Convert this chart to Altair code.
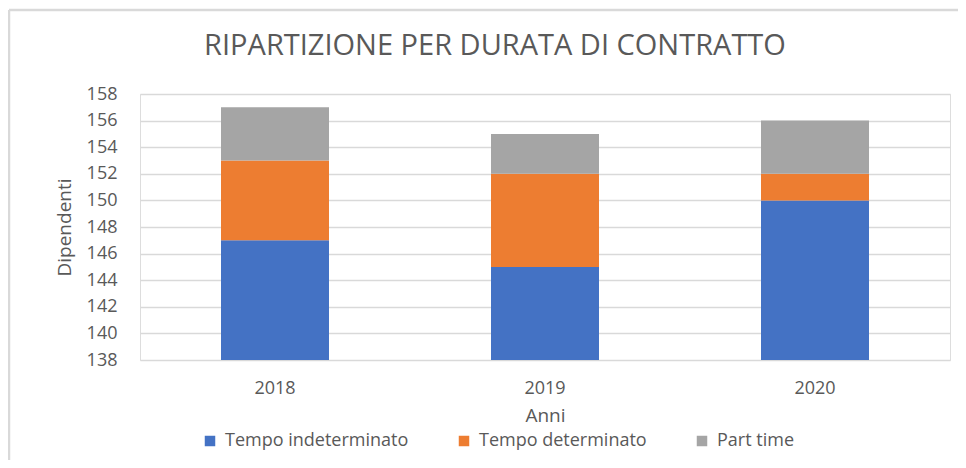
import altair as alt
import pandas as pd

titolo = "RIPARTIZIONE PER DURATA DI CONTRATTO"
anni = ["2018", "2019", "2020"]
serie = ["Tempo indeterminato", "Tempo determinato", "Part time"]
tempo_indeterminato = [147, 145, 150]
tempo_determinato = [6, 7, 2]
part_time = [4, 3, 4]
colori = ["#4472C4", "#ED7D31", "#A5A5A5"]
y_ticks = list(range(138, 159, 2))

rows = []
for i, a in enumerate(anni):
    for k, (s, vals) in enumerate(zip(serie, [tempo_indeterminato, tempo_determinato, part_time])):
        rows.append({"Anno": a, "Serie": s, "Valore": vals[i], "ordine": k})
df = pd.DataFrame(rows)

FONT = "Open Sans"
GREY = "#595959"

bars = alt.Chart(df).mark_bar(clip=True).encode(
    x=alt.X("Anno:N", title="Anni",
            scale=alt.Scale(paddingInner=0.6, paddingOuter=0.3),
            axis=alt.Axis(labelAngle=0, domain=False, ticks=False, labelPadding=19,
                          labelFontSize=18, labelColor=GREY, labelFont=FONT,
                          titleFontSize=19, titleColor=GREY, titleFont=FONT,
                          titleFontWeight="normal", titlePadding=9)),
    y=alt.Y("Valore:Q", title="Dipendenti", stack="zero",
            scale=alt.Scale(domain=[138, 158], nice=False, zero=False),
            axis=alt.Axis(values=y_ticks, domain=False, ticks=False, labelPadding=23,
                          labelFontSize=18, labelColor=GREY, labelFont=FONT,
                          gridColor="#D9D9D9", gridWidth=1.5,
                          titleFontSize=19, titleColor=GREY, titleFont=FONT,
                          titleFontWeight="normal", titlePadding=12)),
    color=alt.Color("Serie:N", sort=serie,
                    scale=alt.Scale(domain=serie, range=colori),
                    legend=alt.Legend(orient="none", legendX=61, legendY=338,
                                      direction="horizontal", title=None,
                                      symbolType="square", symbolSize=110,
                                      symbolStrokeWidth=0, labelLimit=400,
                                      labelFontSize=18, labelColor=GREY, labelFont=FONT,
                                      columnPadding=46, labelOffset=6)),
    order=alt.Order("ordine:Q"),
)

single = alt.Data(values=[{"t": titolo}])
title_mark = alt.Chart(single).mark_text(
    font=FONT, fontSize=29, color=GREY, align="center", baseline="middle", clip=False
).encode(text="t:N", x=alt.value(355), y=alt.value(-48))

top_line = alt.Chart(single).mark_rule(color="#D9D9D9", strokeWidth=2.5, clip=False).encode(
    x=alt.value(-131), x2=alt.value(830), y=alt.value(-84))
left_line = alt.Chart(single).mark_rule(color="#D9D9D9", strokeWidth=2.5, clip=False).encode(
    x=alt.value(-131), y=alt.value(-84), y2=alt.value(380))

chart = alt.layer(bars, title_mark, top_line, left_line).properties(
    width=810, height=266,
    autosize=alt.AutoSizeParams(type="none"),
    padding={"left": 132, "top": 86, "right": 8, "bottom": 100},
).configure_view(stroke=None).configure(background="white")

chart.save("out.html", embed_options={"renderer": "svg", "actions": False})
